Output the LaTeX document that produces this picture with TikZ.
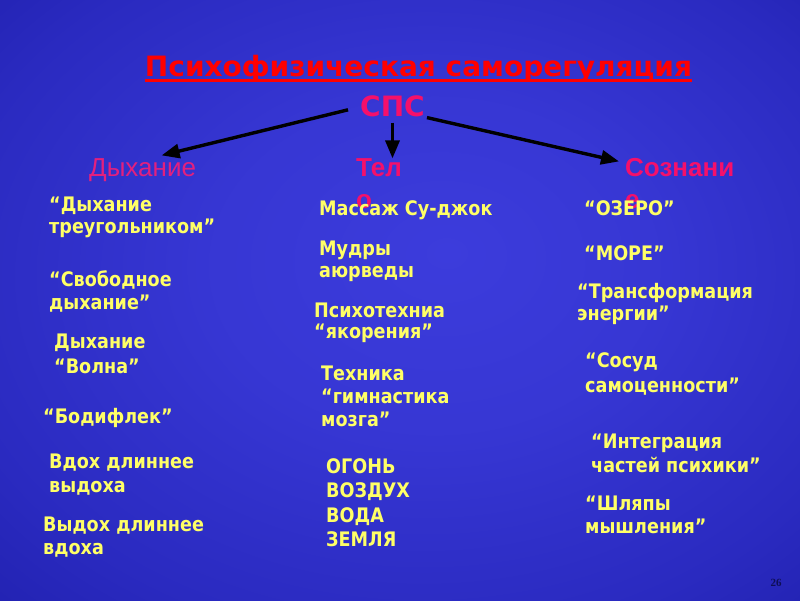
\documentclass[tikz,border=0pt]{standalone}
\usepackage{fontspec}
\setmainfont{DejaVu Sans}
\newfontfamily\tah[FakeStretch=0.88]{DejaVu Sans}
\newfontfamily\tahw{DejaVu Sans}
\newfontfamily\ari{Liberation Sans}
\newfontfamily\serf{Liberation Serif}
\usetikzlibrary{arrows.meta}
\definecolor{bgin}{HTML}{3C3CDC}
\definecolor{bgmid}{HTML}{2A2AC0}
\definecolor{bgout}{HTML}{15159A}
\definecolor{yel}{HTML}{FFFF66}
\definecolor{pinkhead}{HTML}{E2207E}
\definecolor{redhead}{HTML}{F5106A}
\definecolor{titred}{HTML}{FF0000}
\definecolor{pgnum}{HTML}{0E0E55}
\pgfdeclareradialshading{bgshade}{\pgfpoint{3bp}{4bp}}{color(0bp)=(bgin); color(14bp)=(bgin!70!bgmid); color(30bp)=(bgmid); color(50bp)=(bgout)}
\tikzset{
  yel/.style={anchor=north west, inner sep=0pt, align=left, text=yel,
    font=\tah\bfseries\fontsize{20}{#1}\selectfont},
  yel/.default=23,
  headd/.style={anchor=north west, inner sep=0pt, align=left, text=pinkhead,
    font=\ari\fontsize{26}{32}\selectfont},
  headb/.style={anchor=north west, inner sep=0pt, align=left, text=redhead,
    font=\ari\bfseries\fontsize{26}{32}\selectfont},
  arr/.style={-{Triangle[length=18pt,width=14pt]}, line width=3.4pt, black},
}
\begin{document}
\begin{tikzpicture}[x=1pt,y=-1pt]
\shade[shading=bgshade] (0,0) rectangle (800,600);
\useasboundingbox (0,0) rectangle (800,600);

% title
\node[anchor=base, inner sep=0pt, text=titred, font=\tahw\bfseries\fontsize{28}{30}\selectfont] (title) at (418.5,76.5) {Психофизическая саморегуляция};
\draw[titred, line width=3pt] ([yshift=-4pt]title.base west) -- ([yshift=-4pt]title.base east);

% SPS
\node[anchor=base, inner sep=0pt, text=redhead, font=\tahw\bfseries\fontsize{28}{30}\selectfont] (sps) at (392.5,116) {СПС};

% headings
\node[headd] (dyh) at (89,158.4) {Дыхание};
\node[headb] (tel) at (356,158.4) {Тел\\о};
\node[headb] (soz) at (625,158.4) {Сознани\\е};

% arrows
\draw[arr] ([xshift=-12pt,yshift=-4pt]sps.west) -- ([xshift=19pt,yshift=3pt]dyh.north);
\draw[arr, shorten <=6pt] (sps.south) -- (sps.south |- tel.north);
\draw[arr] ([xshift=2pt,yshift=-1pt]sps.south east) -- ([xshift=-6pt,yshift=-3pt]soz.north west);

% left column
\node[yel=22] (l1) at (49,197) {“Дыхание\\треугольником”};
\node[yel] (l2) at (49,270.4) {“Свободное\\дыхание”};
\node[yel=25] (l3) at (54,333.4) {Дыхание\\“Волна”};
\node[yel] (l4) at (43,408.4) {“Бодифлек”};
\node[yel=24] (l5) at (49,453.4) {Вдох длиннее\\выдоха};
\node[yel] (l6) at (43,516.4) {Выдох длиннее\\вдоха};

% middle column
\node[yel] (m1) at (319,200.4) {Массаж Су-джок};
\node[yel=22] (m2) at (319,240.4) {Мудры\\аюрведы};
\node[yel=21] (m3) at (314,302.4) {Психотехниа\\“якорения”};
\node[yel] (m4) at (321,365.4) {Техника\\“гимнастика\\мозга”};
\node[yel=24.5] (m5) at (326,458.4) {ОГОНЬ\\ВОЗДУХ\\ВОДА\\ЗЕМЛЯ};

% right column
\node[yel] (r1) at (584,200.4) {“ОЗЕРО”};
\node[yel] (r2) at (584,245.4) {“МОРЕ”};
\node[yel=22] (r3) at (577,283.4) {“Трансформация\\энергии”};
\node[yel=25] (r4) at (585,352.4) {“Сосуд\\самоценности”};
\node[yel=24] (r5) at (591,433.4) {“Интеграция\\частей психики”};
\node[yel] (r6) at (585,495.4) {“Шляпы\\мышления”};

% page number
\node[inner sep=0pt, text=pgnum, font=\serf\bfseries\fontsize{11}{12}\selectfont] (pg) at (776,583) {26};
\end{tikzpicture}
\end{document}
